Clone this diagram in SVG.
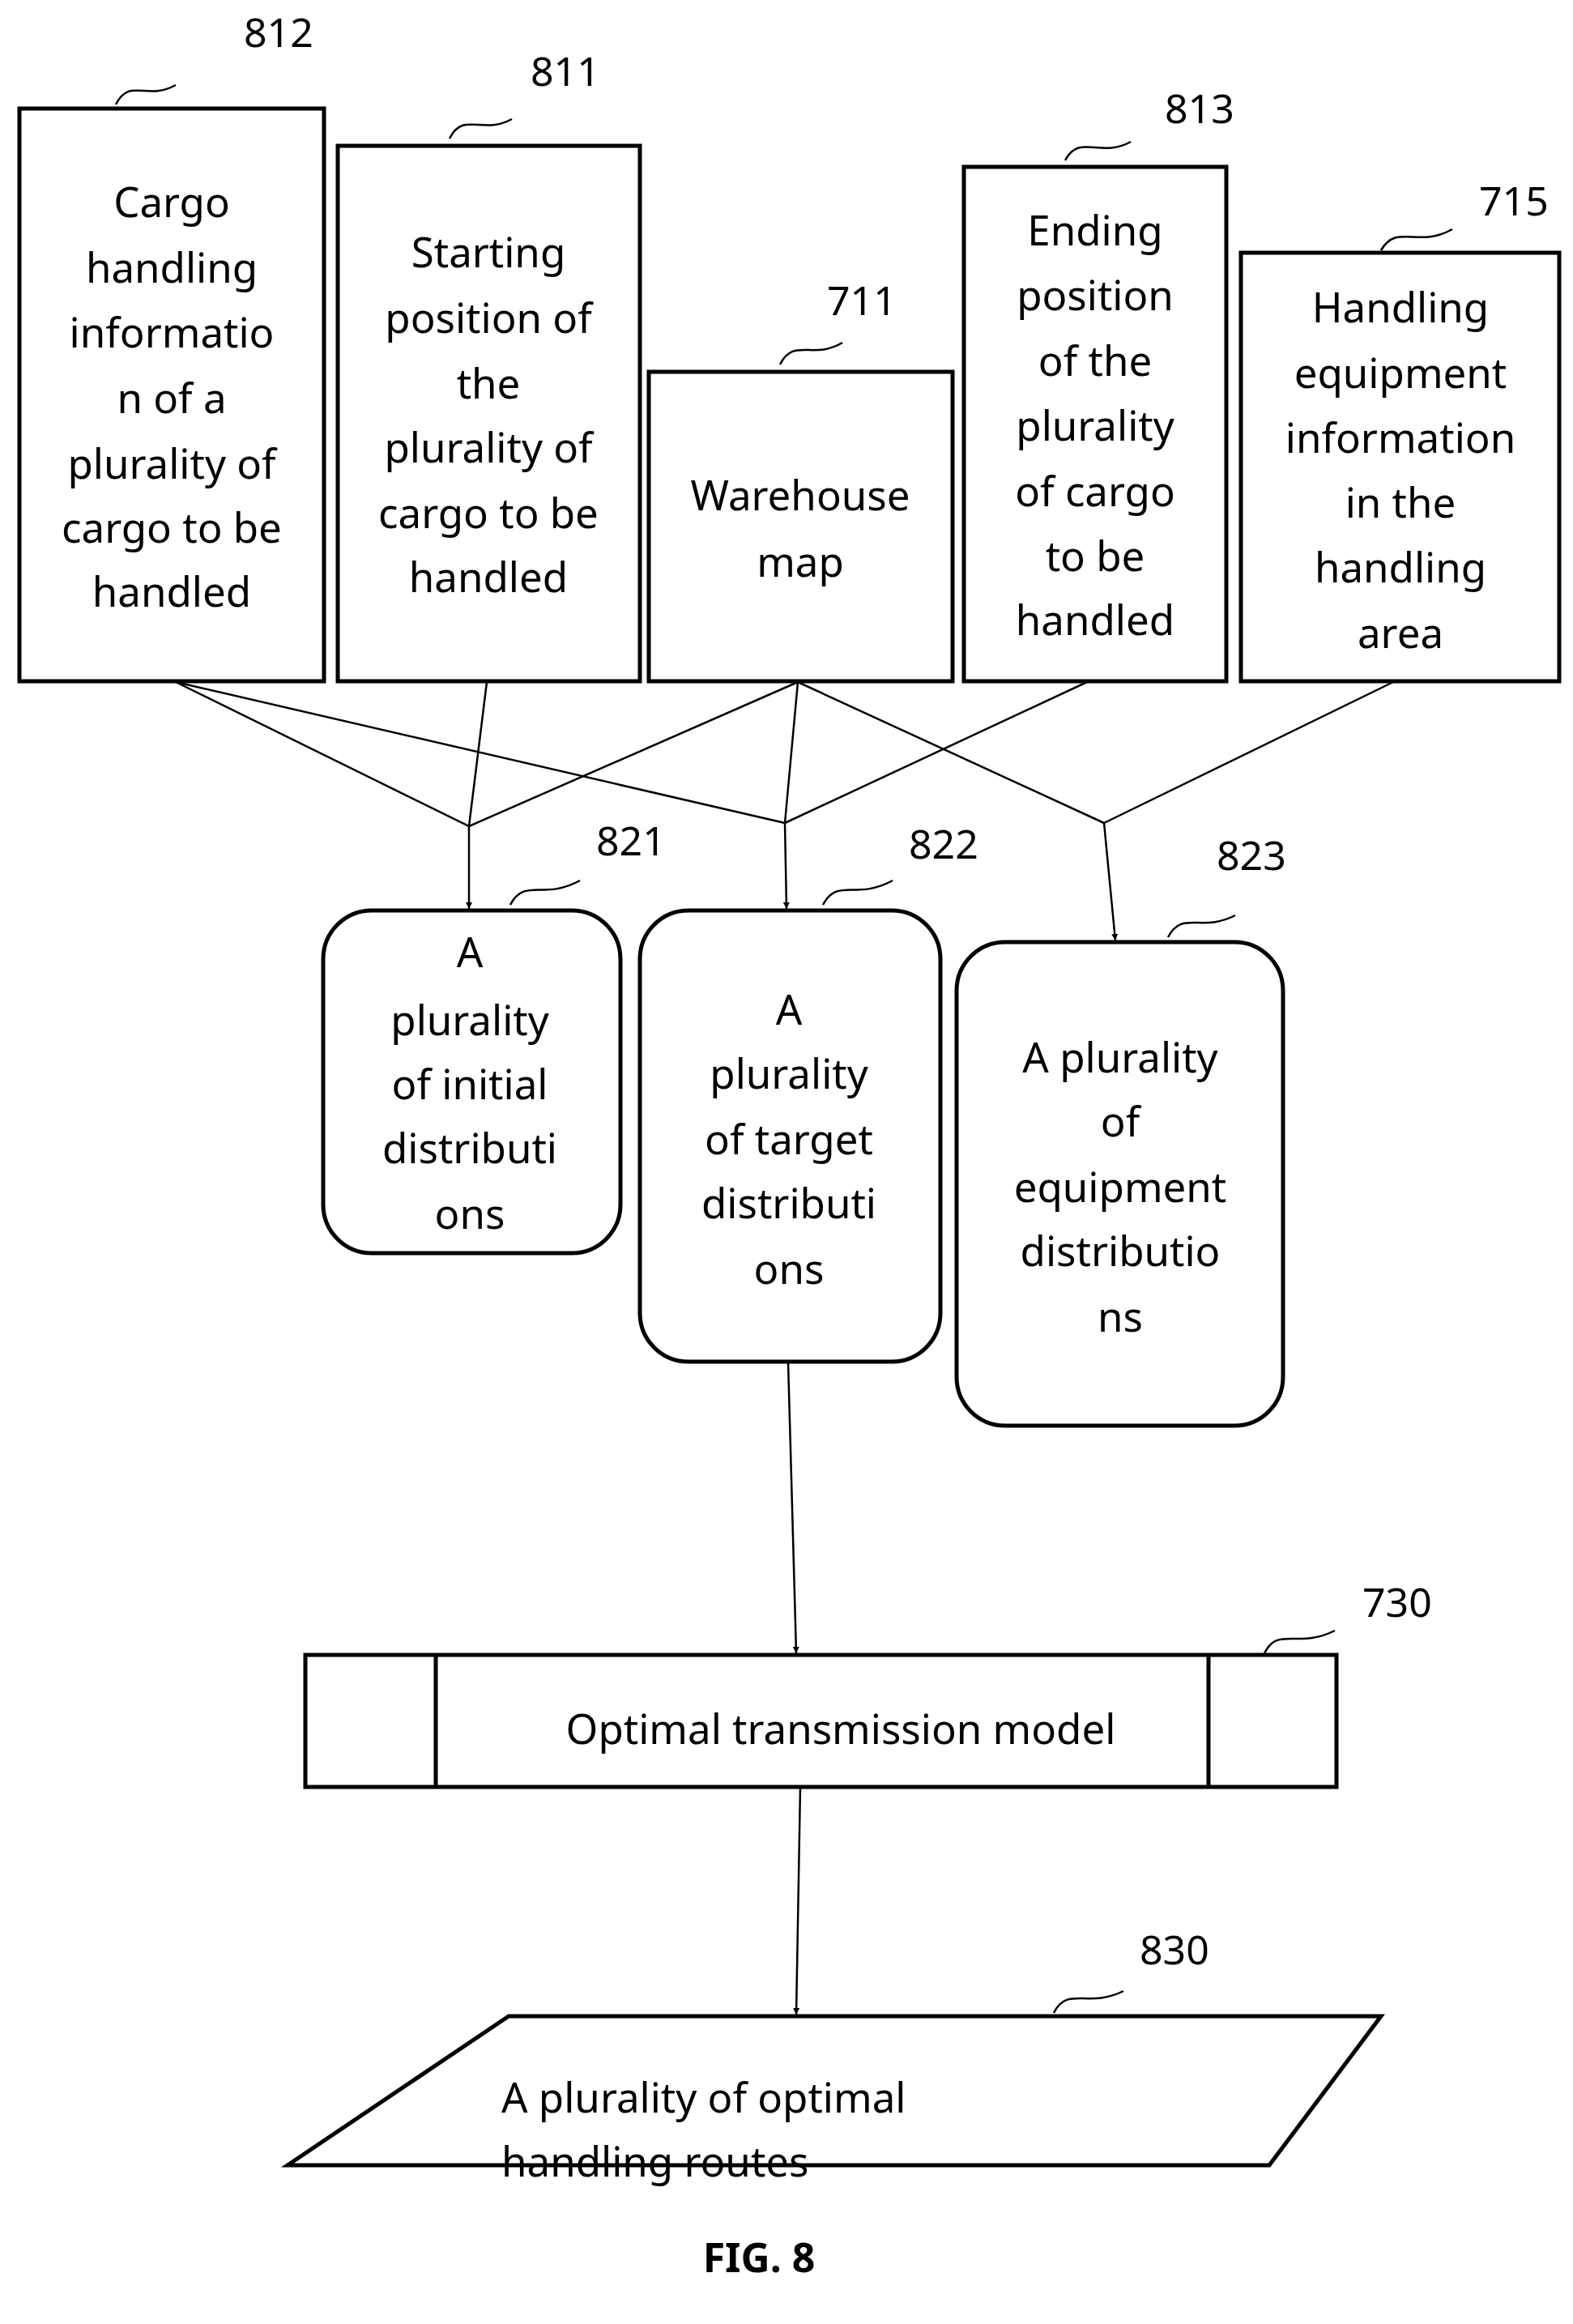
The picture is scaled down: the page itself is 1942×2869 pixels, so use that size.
<svg xmlns="http://www.w3.org/2000/svg" width="1942" height="2869" viewBox="0 0 1942 2869">
<defs>
<style>
.b{fill:#fff;stroke:#000;stroke-width:5}
.t{font-family:"Noto Sans","Liberation Sans",sans-serif;font-size:51px;text-anchor:middle;fill:#000}
.n{font-family:"Noto Sans","Liberation Sans",sans-serif;font-size:50px;fill:#000}
.s{fill:none;stroke:#000;stroke-width:2.5}
.c{fill:none;stroke:#000;stroke-width:2.5}
.a{fill:none;stroke:#000;stroke-width:2.5;marker-end:url(#ar)}
</style>
<marker id="ar" viewBox="0 0 10 10" refX="10" refY="5" markerWidth="8" markerHeight="8" markerUnits="userSpaceOnUse" orient="auto"><path d="M0,0L10,5L0,10z" fill="#000"/></marker>
</defs>
<rect width="1942" height="2869" fill="#fff"/>
<g id="connectors">
<path class="c" d="M217,842L579,1020M217,842L969,1016M601,842L579,1020M985,842L579,1020M985,842L969,1016M985,842L1363,1016M1342,842L969,1016M1720,842L1363,1016"/>
<path class="a" d="M579,1020L579,1122"/>
<path class="a" d="M969,1016L971,1122"/>
<path class="a" d="M1363,1016L1377,1161"/>
<path class="a" d="M973,1681L983,2041"/>
<path class="a" d="M988,2206L983,2487"/>
</g>
<g id="n812">
<rect class="b" x="24" y="134" width="376" height="707"/>
<text class="t" x="212"><tspan x="212" y="268">Cargo</tspan><tspan x="212" y="349">handling</tspan><tspan x="212" y="429">informatio</tspan><tspan x="212" y="510">n of a</tspan><tspan x="212" y="591">plurality of</tspan><tspan x="212" y="670">cargo to be</tspan><tspan x="212" y="749">handled</tspan></text>
<text class="n" x="301" y="58">812</text><path class="s" d="M143,129C160,95 180,125 217,105"/>
</g>
<g id="n811">
<rect class="b" x="417" y="180" width="373" height="661"/>
<text class="t"><tspan x="603" y="330">Starting</tspan><tspan x="603" y="411">position of</tspan><tspan x="603" y="492">the</tspan><tspan x="603" y="571">plurality of</tspan><tspan x="603" y="652">cargo to be</tspan><tspan x="603" y="731">handled</tspan></text>
<text class="n" x="655" y="106">811</text><path class="s" d="M555,171C572,137 595,167 632,147"/>
</g>
<g id="n711">
<rect class="b" x="801" y="459" width="375" height="382"/>
<text class="t"><tspan x="988" y="630">Warehouse</tspan><tspan x="988" y="712">map</tspan></text>
<text class="n" x="1021" y="389">711</text><path class="s" d="M963,450C980,416 1003,445 1040,423"/>
</g>
<g id="n813">
<rect class="b" x="1190" y="206" width="324" height="635"/>
<text class="t"><tspan x="1352" y="303">Ending</tspan><tspan x="1352" y="383">position</tspan><tspan x="1352" y="464">of the</tspan><tspan x="1352" y="544">plurality</tspan><tspan x="1352" y="625">of cargo</tspan><tspan x="1352" y="705">to be</tspan><tspan x="1352" y="784">handled</tspan></text>
<text class="n" x="1438" y="152">813</text><path class="s" d="M1315,198C1333,164 1358,196 1396,175"/>
</g>
<g id="n715">
<rect class="b" x="1532" y="312" width="393" height="529"/>
<text class="t"><tspan x="1729" y="398">Handling</tspan><tspan x="1729" y="479">equipment</tspan><tspan x="1729" y="559">information</tspan><tspan x="1729" y="639">in the</tspan><tspan x="1729" y="719">handling</tspan><tspan x="1729" y="800">area</tspan></text>
<text class="n" x="1826" y="266">715</text><path class="s" d="M1705,309C1725,275 1750,307 1793,283"/>
</g>
<g id="n821">
<rect class="b" x="399" y="1124" width="367" height="423" rx="60"/>
<text class="t"><tspan x="580" y="1194">A</tspan><tspan x="580" y="1278">plurality</tspan><tspan x="580" y="1357">of initial</tspan><tspan x="580" y="1436">distributi</tspan><tspan x="580" y="1517">ons</tspan></text>
<text class="n" x="736" y="1056">821</text><path class="s" d="M630,1117C648,1083 670,1112 716,1087"/>
</g>
<g id="n822">
<rect class="b" x="790" y="1124" width="371" height="557" rx="60"/>
<text class="t"><tspan x="974" y="1265">A</tspan><tspan x="974" y="1344">plurality</tspan><tspan x="974" y="1425">of target</tspan><tspan x="974" y="1504">distributi</tspan><tspan x="974" y="1585">ons</tspan></text>
<text class="n" x="1122" y="1060">822</text><path class="s" d="M1016,1117C1034,1083 1056,1112 1102,1087"/>
</g>
<g id="n823">
<rect class="b" x="1181" y="1163" width="403" height="597" rx="60"/>
<text class="t"><tspan x="1383" y="1324">A plurality</tspan><tspan x="1383" y="1403">of</tspan><tspan x="1383" y="1484">equipment</tspan><tspan x="1383" y="1563">distributio</tspan><tspan x="1383" y="1644">ns</tspan></text>
<text class="n" x="1502" y="1074">823</text><path class="s" d="M1442,1157C1460,1123 1482,1152 1525,1130"/>
</g>
<g id="n730">
<rect class="b" x="377" y="2043" width="1273" height="163"/>
<path class="b" d="M538,2043V2206M1492,2043V2206"/>
<text class="t" x="1038" y="2153">Optimal transmission model</text>
<text class="n" x="1682" y="1996">730</text><path class="s" d="M1561,2041C1578,2007 1602,2036 1648,2013"/>
</g>
<g id="n830">
<path class="b" d="M628,2489H1705L1567,2673H355Z"/>
<text class="t" style="text-anchor:start"><tspan x="619" y="2608">A plurality of optimal</tspan><tspan x="619" y="2687">handling routes</tspan></text>
<text class="n" x="1407" y="2425">830</text><path class="s" d="M1301,2485C1318,2451 1342,2480 1387,2458"/>
</g>
<text x="937" y="2805" style="font-family:'Noto Sans','Liberation Sans',sans-serif;font-size:50px;font-weight:bold;text-anchor:middle">FIG. 8</text>
</svg>
